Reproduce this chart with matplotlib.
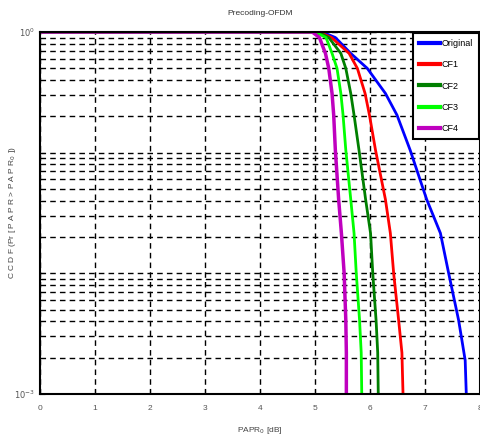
import matplotlib.pyplot as plt

plt.rcParams['font.family'] = ['Liberation Sans Narrow', 'Liberation Sans', 'DejaVu Sans']

# CCDF values (probability) and PAPR0 thresholds [dB]
ccdf = [1.0, 1.0, 0.9, 0.665, 0.5, 0.31, 0.205, 0.105, 0.072, 0.041, 0.0215, 0.01, 0.0041, 0.0028, 0.0019, 0.001]
papr_orig = [0.0, 5.13, 5.37, 5.65, 5.95, 6.28, 6.49, 6.73, 6.85, 7.03, 7.28, 7.43, 7.61, 7.67, 7.73, 7.75]

ccdf_cf = [1.0, 1.0, 0.9, 0.665, 0.5, 0.31, 0.205, 0.105, 0.041, 0.0215, 0.01, 0.0041, 0.0022, 0.001]
papr_cf1 = [0.0, 5.07, 5.30, 5.62, 5.77, 5.91, 5.99, 6.10, 6.28, 6.37, 6.43, 6.52, 6.58, 6.60]
papr_cf2 = [0.0, 5.05, 5.25, 5.47, 5.56, 5.65, 5.71, 5.80, 5.92, 6.01, 6.05, 6.11, 6.14, 6.15]
papr_cf3 = [0.0, 5.00, 5.20, 5.31, 5.40, 5.47, 5.51, 5.56, 5.65, 5.71, 5.75, 5.81, 5.84, 5.85]
papr_cf4 = [0.0, 4.95, 5.08, 5.19, 5.25, 5.31, 5.34, 5.37, 5.43, 5.48, 5.53, 5.56, 5.57, 5.57]

fig = plt.figure(figsize=(4.81, 4.36), dpi=100)
ax = fig.add_axes([0.083, 0.0963, 0.915, 0.8303])

ax.semilogy(papr_orig, ccdf, color='#0000ff', lw=2, label='Original')
ax.semilogy(papr_cf1, ccdf_cf, color='#ff0000', lw=2, label='CF1')
ax.semilogy(papr_cf2, ccdf_cf, color='#007f00', lw=2, label='CF2')
ax.semilogy(papr_cf3, ccdf_cf, color='#00ff00', lw=2, label='CF3')
ax.semilogy(papr_cf4, ccdf_cf, color='#bf00bf', lw=2.5, label='CF4')

ax.set_xlim(0, 8)
ax.set_ylim(1e-3, 1)
ax.set_xticks(range(0, 9))
ax.set_yticks([1e-3, 1e-2, 1e-1, 1])
ax.set_yticklabels(['$10^{-3}$', '', '', '$10^{0}$'])
ax.grid(True, which='both', color='black', ls=(0, (4, 3)), lw=1)
ax.tick_params(which='both', direction='in', labelsize=6, labelcolor='#555555')
ax.tick_params(axis='x', pad=8)
for sp in ax.spines.values():
    sp.set_linewidth(1.5)

ax.set_title('Precoding-OFDM', fontsize=6, color='#333333', pad=12)
ax.set_xlabel('PAPR$_0$ [dB]', fontsize=6, color='#444444', labelpad=9)
ax.set_ylabel('C C D F (Pr [ P A P R > P A P R$_0$ ])', fontsize=6, color='#444444')
ax.yaxis.set_label_coords(-0.05, 0.5)

leg = ax.legend(loc='upper right', borderaxespad=0.1, fontsize=6.5, fancybox=False,
                framealpha=1, edgecolor='black', handlelength=2.3, handletextpad=0.2,
                labelspacing=1.35, borderpad=0.7)
leg.get_frame().set_linewidth(1.5)
for h in leg.get_lines():
    h.set_linewidth(3)

fig.savefig('out.png', dpi=100)
